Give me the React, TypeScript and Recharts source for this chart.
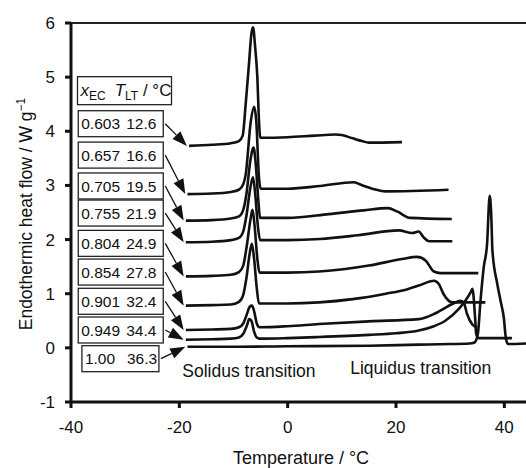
import React from "react";
import { LineChart, Line, XAxis, YAxis, ReferenceLine, ReferenceDot } from "recharts";

const FONT = '"Liberation Sans", Arial, Helvetica, sans-serif';

// DSC heating curves: [temperature / °C, heat flow / W g-1]
const c603 = [
  [-18.2, 3.73], [-14, 3.75], [-10.5, 3.78], [-9, 3.82], [-8.3, 3.92], [-7.75, 4.5], [-7.1, 5.3],
  [-6.7, 5.8], [-6.4, 5.92], [-6.0, 5.55], [-5.6, 5.0], [-5.3, 4.2], [-5.05, 3.88], [0, 3.89],
  [5, 3.92], [8.8, 3.94], [10, 3.93], [12, 3.87], [13.7, 3.82], [15, 3.79], [21.1, 3.8],
];
const c657 = [
  [-18.5, 2.84], [-14, 2.85], [-10.5, 2.88], [-9, 2.92], [-8.2, 3.02], [-7.75, 3.2], [-6.8, 4.19],
  [-6.2, 4.45], [-5.8, 4.19], [-5.3, 3.15], [-5.0, 2.94], [0, 2.94], [6, 2.99], [12.2, 3.06],
  [13.3, 3.02], [16, 2.93], [18, 2.89], [29.7, 2.92],
];
const c705 = [
  [-18.8, 2.35], [-14, 2.36], [-10.5, 2.39], [-9, 2.43], [-8.2, 2.55], [-7.6, 2.85], [-6.9, 3.45],
  [-6.3, 3.7], [-5.9, 3.4], [-5.4, 2.7], [-5.1, 2.4], [0, 2.4], [7.6, 2.47], [14, 2.54],
  [18.5, 2.58], [20.2, 2.52], [22.6, 2.4], [30.3, 2.38],
];
const c755 = [
  [-18.8, 1.95], [-14, 1.96], [-10.5, 1.99], [-9, 2.03], [-8.2, 2.15], [-7.6, 2.45], [-6.9, 2.95],
  [-6.4, 3.15], [-6.0, 2.85], [-5.5, 2.25], [-5.1, 1.99], [0, 1.99], [6, 2.01], [13, 2.08],
  [20.5, 2.17], [23, 2.12], [24.2, 2.15], [25.1, 2.04], [26.1, 1.97], [30.4, 1.97],
];
const c804 = [
  [-18.8, 1.32], [-14, 1.33], [-10.5, 1.35], [-9, 1.4], [-8.2, 1.52], [-7.6, 1.85], [-6.9, 2.35],
  [-6.5, 2.55], [-6.1, 2.25], [-5.6, 1.65], [-5.2, 1.39], [0, 1.39], [5.8, 1.41], [15, 1.52],
  [21.1, 1.64], [23.9, 1.68], [25.5, 1.61], [27, 1.41], [28.2, 1.38], [35.2, 1.38],
];
const c854 = [
  [-18.8, 0.78], [-14, 0.79], [-10.5, 0.8], [-9, 0.85], [-8.2, 0.98], [-7.6, 1.3], [-7.0, 1.75],
  [-6.6, 1.92], [-6.2, 1.65], [-5.7, 1.1], [-5.3, 0.82], [0, 0.82], [5.8, 0.84], [12, 0.9],
  [18.1, 1.0], [22, 1.08], [24.2, 1.15], [27, 1.24], [27.9, 1.18], [28.8, 0.99], [30.4, 0.84],
  [36.5, 0.84],
];
const c901 = [
  [-18.8, 0.33], [-14, 0.34], [-10.5, 0.35], [-9, 0.38], [-8.2, 0.45], [-7.6, 0.6], [-7.0, 0.76],
  [-6.6, 0.78], [-6.2, 0.68], [-5.7, 0.45], [-5.2, 0.38], [0, 0.4], [5.8, 0.44], [15, 0.49],
  [24.2, 0.53], [27.3, 0.64], [30.4, 0.81], [31.9, 0.87], [32.5, 0.84], [33.1, 0.63],
  [34.1, 0.43], [35, 0.37],
];
const c949 = [
  [-18.8, 0.15], [-14, 0.16], [-10.5, 0.17], [-9, 0.19], [-8.2, 0.26], [-7.5, 0.42], [-7.1, 0.53],
  [-6.7, 0.5], [-6.2, 0.3], [-5.7, 0.19], [-5.2, 0.17], [0, 0.18], [5.8, 0.2], [15, 0.24],
  [20, 0.27], [24.2, 0.32], [27, 0.4], [29.1, 0.5], [31.6, 0.72], [32.8, 0.87], [33.8, 1.03],
  [34.1, 1.09], [34.6, 0.56], [34.8, 0.26], [35.2, 0.18], [41.4, 0.18],
];
const c100 = [
  [-18.5, 0.02], [-10, 0.02], [0, 0.03], [15, 0.04], [24.2, 0.06], [30, 0.07], [33.5, 0.08],
  [34.5, 0.1], [35.1, 0.25], [35.6, 0.87], [36.2, 1.49], [36.8, 1.9], [37.3, 2.81], [37.6, 2.41],
  [37.8, 1.8], [38.7, 1.18], [39.3, 0.87], [39.9, 0.56], [40.3, 0.17], [40.7, 0.07], [44, 0.08],
];

const curves = [c603, c657, c705, c755, c804, c854, c901, c949, c100];
const xEC = ["0.603", "0.657", "0.705", "0.755", "0.804", "0.854", "0.901", "0.949", "1.00"];
const tLT = ["12.6", "16.6", "19.5", "21.9", "24.9", "27.8", "32.4", "34.4", "36.3"];

const xTicks = [-40, -20, 0, 20, 40];
const yTicks = [-1, 0, 1, 2, 3, 4, 5, 6];

// heat-flow level of each legend box centre (box sits left of the curve it points at)
const boxLevel = [4.14, 3.56, 2.99, 2.49, 1.93, 1.4, 0.86, 0.33, -0.2];

const arrowShape = (i: number) => (p: any) => {
  const { x1, y1, x2, y2 } = p;
  const last = i === curves.length - 1;
  const w = last ? 77 : 85;
  const bx = x1 - 2 - w;
  const dx = x2 - x1;
  const dy = y2 - y1;
  const len = Math.hypot(dx, dy) || 1;
  const ux = dx / len;
  const uy = dy / len;
  const hl = 15;
  const hw = 5.5;
  const hx = x2 - ux * hl;
  const hy = y2 - uy * hl;
  const pts = `${x2},${y2} ${hx - uy * hw},${hy + ux * hw} ${hx + uy * hw},${hy - ux * hw}`;
  return (
    <g>
      <rect x={bx} y={y1 - 13} width={w} height={26} fill="#fff" stroke="#222" strokeWidth={1.3} />
      <text x={bx + 3} y={y1} dy="0.36em" fontSize={15.5} fontFamily={FONT} fill="#111">
        {xEC[i]}
      </text>
      <text x={bx + (last ? 45 : 48)} y={y1} dy="0.36em" fontSize={15.5} fontFamily={FONT} fill="#111">
        {tLT[i]}
      </text>
      <line x1={x1} y1={y1} x2={hx} y2={hy} stroke="#111" strokeWidth={1.3} />
      <polygon points={pts} fill="#111" />
    </g>
  );
};

const HeaderBox = (p: any) => (
  <g>
    <rect x={p.cx} y={p.cy - 14} width={94} height={28} fill="#fff" stroke="#222" strokeWidth={1.3} />
    <text x={p.cx + 3} y={p.cy} dy="0.3em" fontSize={17} fontFamily={FONT} fill="#111">
      <tspan fontStyle="italic">x</tspan>
      <tspan fontSize={12} dy={4}>EC</tspan>
      <tspan fontStyle="italic" dy={-4} dx={9}>T</tspan>
      <tspan fontSize={12} dy={4}>LT</tspan>
      <tspan dy={-4}> / °C</tspan>
    </text>
  </g>
);

const note = (value: string) => (p: any) => (
  <text x={p.cx} y={p.cy} dy="0.35em" fontSize={17.5} fontFamily={FONT} fill="#111">
    {value}
  </text>
);

const YTitle = () => (
  <text
    transform="translate(26,214) rotate(-90)"
    textAnchor="middle"
    dy="0.35em"
    fontSize={17.5}
    fontFamily={FONT}
    fill="#111"
  >
    Endothermic heat flow / W g<tspan dy={-7} fontSize={12}>−1</tspan>
  </text>
);

const XTitle = () => (
  <text x={301} y={464} textAnchor="middle" fontSize={18} fontFamily={FONT} fill="#111">
    Temperature / °C
  </text>
);

export default function App() {
  return (
    <div style={{ position: "absolute", left: 0, top: 0, background: "#fff" }}>
      <LineChart width={526} height={468} margin={{ top: 23, right: 0, bottom: 0, left: 0 }}>
        <XAxis
          type="number"
          dataKey="t"
          domain={[-40, 44]}
          ticks={xTicks}
          allowDataOverflow
          height={66}
          tickSize={6}
          tickMargin={13}
          axisLine={{ stroke: "#111", strokeWidth: 3 }}
          tickLine={{ stroke: "#111", strokeWidth: 3 }}
          tick={{ fontSize: 17, fill: "#111", fontFamily: FONT }}
          label={<XTitle />}
        />
        <YAxis
          type="number"
          domain={[-1, 6]}
          ticks={yTicks}
          allowDataOverflow
          width={71}
          tickSize={6}
          tickMargin={10}
          axisLine={{ stroke: "#111", strokeWidth: 3 }}
          tickLine={{ stroke: "#111", strokeWidth: 3 }}
          tick={{ fontSize: 17, fill: "#111", fontFamily: FONT }}
          label={<YTitle />}
        />
        <ReferenceLine y={6} stroke="#222" strokeWidth={2} ifOverflow="visible" />
        {curves.map((c, i) => (
          <Line
            key={xEC[i]}
            name={xEC[i]}
            data={c.map(([t, v]) => ({ t, v }))}
            dataKey="v"
            type="monotone"
            stroke="#111"
            strokeWidth={2.6}
            dot={false}
            activeDot={false}
            isAnimationActive={false}
          />
        ))}
        {curves.map((c, i) => (
          <ReferenceLine
            key={"arrow" + i}
            ifOverflow="visible"
            segment={[
              { x: i === curves.length - 1 ? -23.4 : -22.6, y: boxLevel[i] },
              { x: c[0][0] - 0.4, y: c[0][1] },
            ]}
            shape={arrowShape(i)}
          />
        ))}
        <ReferenceDot x={-38.8} y={4.75} ifOverflow="visible" shape={HeaderBox} />
        <ReferenceDot x={-19.45} y={-0.42} ifOverflow="visible" shape={note("Solidus transition")} />
        <ReferenceDot x={11.55} y={-0.37} ifOverflow="visible" shape={note("Liquidus transition")} />
      </LineChart>
    </div>
  );
}
